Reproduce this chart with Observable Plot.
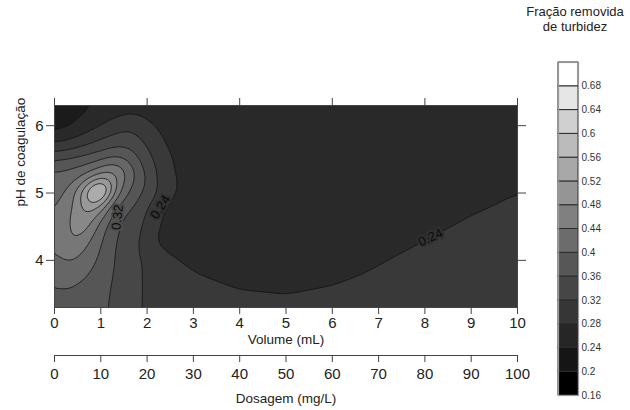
<!DOCTYPE html>
<html><head><meta charset="utf-8">
<script src="https://cdn.jsdelivr.net/npm/d3@7"></script>
<script src="https://cdn.jsdelivr.net/npm/@observablehq/plot@0.6"></script>
<style>
body{margin:0;background:#fff;font-family:"Liberation Sans",Arial,sans-serif;}
#wrap{position:relative;width:630px;height:410px;overflow:hidden;background:#fff;}
#wrap svg{position:absolute;left:0;}
#title{position:absolute;left:512px;top:4px;width:126px;text-align:center;font-size:13px;line-height:15px;color:#222;}
</style></head><body><div id="wrap"><div id="title">Fração removida<br>de turbidez</div></div>
<script>
// Grid: columns = Volume (mL), rows = pH
const volumeCols = [0, 0.25, 0.5, 0.75, 1, 1.25, 1.5, 1.75, 2, 2.25, 2.5, 3, 4, 5, 6, 7, 8, 9, 10];
const pHRows = [6.3, 6.0, 5.7, 5.5, 5.3, 5.15, 5.05, 4.95, 4.8, 4.6, 4.3, 4.0, 3.65, 3.3];
const r630 = [0.170, 0.178, 0.186, 0.195, 0.200, 0.208, 0.215, 0.222, 0.224, 0.224, 0.224, 0.224, 0.222, 0.221, 0.221, 0.221, 0.222, 0.223, 0.226];
const r600 = [0.180, 0.190, 0.204, 0.222, 0.239, 0.256, 0.270, 0.268, 0.245, 0.232, 0.228, 0.225, 0.222, 0.221, 0.221, 0.221, 0.222, 0.225, 0.229];
const r570 = [0.249, 0.258, 0.270, 0.285, 0.298, 0.312, 0.316, 0.304, 0.278, 0.248, 0.232, 0.225, 0.222, 0.221, 0.221, 0.221, 0.223, 0.227, 0.232];
const r550 = [0.314, 0.324, 0.332, 0.341, 0.353, 0.372, 0.366, 0.330, 0.295, 0.267, 0.238, 0.227, 0.222, 0.221, 0.221, 0.221, 0.224, 0.229, 0.234];
const r530 = [0.366, 0.372, 0.380, 0.400, 0.440, 0.470, 0.415, 0.368, 0.310, 0.272, 0.241, 0.229, 0.222, 0.221, 0.221, 0.222, 0.226, 0.231, 0.236];
const r515 = [0.378, 0.386, 0.400, 0.455, 0.545, 0.480, 0.390, 0.350, 0.318, 0.275, 0.243, 0.230, 0.223, 0.221, 0.221, 0.223, 0.227, 0.233, 0.238];
const r505 = [0.385, 0.392, 0.445, 0.555, 0.730, 0.490, 0.382, 0.345, 0.310, 0.277, 0.242, 0.231, 0.223, 0.221, 0.222, 0.223, 0.228, 0.234, 0.2395];
const r495 = [0.390, 0.400, 0.455, 0.560, 0.580, 0.420, 0.358, 0.335, 0.303, 0.274, 0.240, 0.232, 0.223, 0.221, 0.221, 0.224, 0.229, 0.235, 0.2405];
const r480 = [0.393, 0.412, 0.458, 0.525, 0.470, 0.356, 0.340, 0.316, 0.279, 0.251, 0.229, 0.232, 0.223, 0.221, 0.221, 0.225, 0.231, 0.2375, 0.243];
const r460 = [0.395, 0.425, 0.485, 0.470, 0.390, 0.345, 0.312, 0.296, 0.274, 0.238, 0.228, 0.231, 0.223, 0.221, 0.223, 0.228, 0.234, 0.2412, 0.247];
const r430 = [0.392, 0.440, 0.446, 0.400, 0.366, 0.326, 0.305, 0.294, 0.252, 0.230, 0.231, 0.231, 0.225, 0.224, 0.227, 0.233, 0.2398, 0.247, 0.253];
const r400 = [0.386, 0.405, 0.395, 0.372, 0.352, 0.321, 0.305, 0.290, 0.272, 0.256, 0.243, 0.236, 0.230, 0.229, 0.232, 0.2385, 0.246, 0.253, 0.259];
const r365 = [0.361, 0.366, 0.358, 0.348, 0.335, 0.317, 0.303, 0.288, 0.274, 0.262, 0.254, 0.244, 0.238, 0.236, 0.2395, 0.245, 0.253, 0.260, 0.266];
const r330 = [0.345, 0.346, 0.343, 0.338, 0.327, 0.315, 0.302, 0.285, 0.275, 0.266, 0.260, 0.252, 0.246, 0.245, 0.247, 0.252, 0.260, 0.267, 0.273];
const gridRows = [r630, r600, r570, r550, r530, r515, r505, r495, r480, r460, r430, r400, r365, r330];

// Contour levels / colour-bar labels
const levels = [0.16, 0.2, 0.24, 0.28, 0.32, 0.36, 0.4, 0.44, 0.48, 0.52, 0.56, 0.6, 0.64, 0.68];
const levelTop = 0.72;
const fillColors = ["#1b1b1b", "#292929", "#393939", "#474747", "#565656", "#666666", "#777777", "#888888", "#999999", "#ababab", "#bdbdbd", "#d0d0d0", "#e5e5e5", "#ffffff"];
const legendColors = ["#000000", "#151515", "#262626", "#363636", "#464646", "#575757", "#6c6c6c", "#808080", "#959595", "#a8a8a8", "#bbbbbb", "#d0d0d0", "#e6e6e6", "#ffffff"];

// Axes ticks
const volTicks = [0, 1, 2, 3, 4, 5, 6, 7, 8, 9, 10];
const topTicks = [0, 2, 4, 6, 8, 10];
const phTicks = [4, 5, 6];
const dosTicks = [0, 10, 20, 30, 40, 50, 60, 70, 80, 90, 100];

// Contour labels
const labelText = ["0.32", "0.24", "0.24"];
const labelVol = [1.36, 2.29, 8.12];
const labelPH = [4.64, 4.79, 4.34];
const labelAngle = [-84, -58, -25];
const labelHalo = ["#4e4e4e", "#313131", "#313131"];

const points = pHRows.flatMap((ph, i) => volumeCols.map((v, j) => ({v, ph, z: gridRows[i][j]})));
const font = "'Liberation Sans', Arial, sans-serif";
const wrap = document.getElementById("wrap");

const main = Plot.plot({
  width: 630, height: 410,
  marginLeft: 54, marginRight: 113, marginTop: 105, marginBottom: 103,
  style: {fontFamily: font, fontSize: "15px", color: "#222", background: "transparent"},
  x: {domain: [0, 10]},
  y: {domain: [3.3, 6.3]},
  color: {type: "threshold", domain: levels.slice(1), range: fillColors},
  marks: [
    Plot.contour(points, {x: "v", y: "ph", fill: "z", thresholds: levels, interpolate: "barycentric", blur: 3, stroke: "#111", strokeWidth: 0.8}),
    Plot.text(labelText, {x: (d, i) => labelVol[i], y: (d, i) => labelPH[i], rotate: (d, i) => labelAngle[i], text: d => d,
      fill: "#0a0a0a", stroke: (d, i) => labelHalo[i], strokeWidth: 4, paintOrder: "stroke", fontSize: 13}),
    Plot.frame({stroke: "#444"}),
    Plot.axisX(volTicks, {anchor: "bottom", tickSize: 7, tickPadding: 3, tickFormat: "d", label: null, stroke: "#444", fontSize: 15}),
    Plot.axisX(topTicks, {anchor: "top", tickSize: 8, tickFormat: () => "", label: null, stroke: "#444"}),
    Plot.axisY(phTicks, {anchor: "left", tickSize: 8, tickPadding: 3, tickFormat: "d", label: null, stroke: "#444", fontSize: 15}),
    Plot.axisY(phTicks, {anchor: "right", tickSize: 8, tickFormat: () => "", label: null, stroke: "#444"}),
    Plot.text(["Volume (mL)"], {frameAnchor: "bottom", dy: 36, fontSize: 13.5, fill: "#222"}),
    Plot.text(["pH de coagulação"], {frameAnchor: "left", dx: -34, rotate: -90, fontSize: 13.5, fill: "#222"})
  ]
});
main.style.top = "0px";
wrap.appendChild(main);

const dos = Plot.plot({
  width: 630, height: 80,
  marginLeft: 54, marginRight: 113, marginTop: 20, marginBottom: 55,
  style: {fontFamily: font, fontSize: "15px", color: "#222", background: "transparent"},
  x: {domain: [0, 100]},
  y: {domain: [0, 1], axis: null},
  marks: [
    Plot.ruleY([0], {stroke: "#444"}),
    Plot.axisX(dosTicks, {anchor: "bottom", tickSize: 7, tickPadding: 6, tickFormat: "d", label: null, stroke: "#444", fontSize: 15}),
    Plot.text(["Dosagem (mg/L)"], {frameAnchor: "bottom", dy: 47, fontSize: 13.5, fill: "#222"})
  ]
});
dos.style.top = "330px";
wrap.appendChild(dos);

const bandHi = levels.slice(1).concat([levelTop]);
const bar = Plot.plot({
  width: 90, height: 360,
  marginLeft: 18, marginRight: 52, marginTop: 12, marginBottom: 15,
  style: {fontFamily: font, fontSize: "10px", color: "#222", background: "transparent"},
  x: {domain: [0, 1], axis: null},
  y: {domain: [levels[0], levelTop], axis: null},
  color: {type: "identity"},
  marks: [
    Plot.rect(levels, {x1: 0, x2: 1, y1: d => d, y2: (d, i) => bandHi[i], fill: (d, i) => legendColors[i], stroke: "#2a2a2a", strokeWidth: 1}),
    Plot.frame({stroke: "#999", strokeWidth: 1.2}),
    Plot.text(levels, {x: 1, y: d => d, dx: 3, textAnchor: "start", text: d => String(d), fontSize: 10, fill: "#333"})
  ]
});
bar.style.left = "540px";
bar.style.top = "50px";
wrap.appendChild(bar);
</script></body></html>
